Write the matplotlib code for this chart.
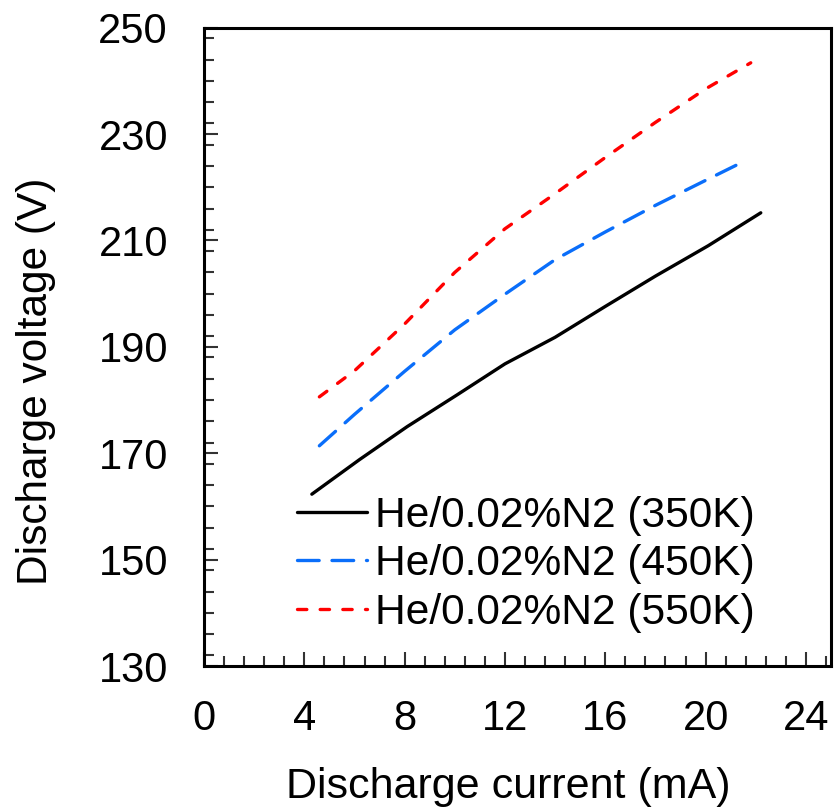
import matplotlib
matplotlib.use("Agg")
import matplotlib.pyplot as plt
from matplotlib.ticker import MultipleLocator

plt.rcParams['font.family'] = ['Liberation Sans', 'DejaVu Sans']

# Data (discharge current in mA, discharge voltage in V)
current_350 = [4.3, 6.2, 8.1, 10.1, 12.0, 14.0, 16.0, 18.0, 20.1, 22.2]
voltage_350 = [162.3, 168.8, 175.0, 181.0, 186.8, 191.8, 197.6, 203.3, 209.0, 215.2]

current_450 = [4.6, 6.0, 8.0, 10.0, 12.0, 14.0, 16.0, 18.0, 20.0, 21.5]
voltage_450 = [171.4, 177.3, 185.4, 193.2, 199.9, 206.4, 211.6, 216.6, 221.3, 224.8]

current_550 = [4.6, 6.0, 8.0, 10.0, 12.0, 14.0, 16.0, 18.0, 20.0, 21.8]
voltage_550 = [180.6, 185.5, 194.3, 204.0, 212.2, 218.8, 225.6, 232.2, 238.5, 243.4]

labels = ["He/0.02%N2 (350K)", "He/0.02%N2 (450K)", "He/0.02%N2 (550K)"]
x_ticks = [0, 4, 8, 12, 16, 20, 24]
y_ticks = [130, 150, 170, 190, 210, 230, 250]

W, H = 835, 809
fig = plt.figure(figsize=(W / 100, H / 100), dpi=100)
ax = fig.add_axes([204 / W, 1 - 666 / H, (831 - 204) / W, (666 - 27.7) / H])

lw = 2.4
ax.plot(current_350, voltage_350, color='black', lw=lw, solid_capstyle='round',
        solid_joinstyle='round', label=labels[0])
ax.plot(current_450, voltage_450, color='#0A6EFA', lw=lw, dashes=(6.5, 3.85),
        dash_capstyle='round', label=labels[1])
ax.plot(current_550, voltage_550, color='#FF0000', lw=lw, dashes=(2.8, 4.0),
        dash_capstyle='round', label=labels[2])

ax.set_xlim(0, 25)
ax.set_ylim(130, 250)
ax.set_xticks(x_ticks)
ax.set_yticks(y_ticks)
ax.xaxis.set_minor_locator(MultipleLocator(0.8))
ax.yaxis.set_minor_locator(MultipleLocator(4))

for s in ax.spines.values():
    s.set_linewidth(2.2)

ax.tick_params(which='both', direction='in', labelsize=30, width=1.5, color='#333333')
ax.tick_params(which='major', length=10)
ax.tick_params(which='minor', length=7)
ax.tick_params(axis='x', which='major', pad=24)
ax.tick_params(axis='y', which='major', pad=26)
ax.tick_params(axis='x', which='both', top=False)
ax.tick_params(axis='y', which='both', right=False)

ax.set_xlabel("Discharge current (mA)", fontsize=31)
ax.set_ylabel("Discharge voltage (V)", fontsize=30.5)
ax.xaxis.set_label_coords(0.485, -0.159)
ax.yaxis.set_label_coords(-0.236, 0.446)

leg = ax.legend(loc='upper left', bbox_to_anchor=(0.148, 0.267), frameon=False,
                fontsize=30.6, handlelength=1.65, handletextpad=0.2,
                labelspacing=0.2, borderpad=0, borderaxespad=0)

fig.savefig("out.png", dpi=100)
